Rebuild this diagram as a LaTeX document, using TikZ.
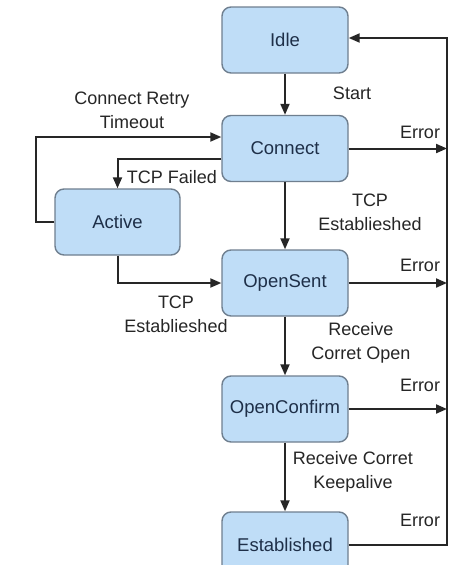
\documentclass[tikz,border=0pt]{standalone}
\usepackage{fontspec}
\setmainfont{Liberation Sans}
\usetikzlibrary{arrows.meta}
\definecolor{boxfill}{HTML}{BFDDF7}
\definecolor{boxdraw}{HTML}{6F7F8F}
\definecolor{boxtext}{HTML}{1E2F48}
\definecolor{labtext}{HTML}{262626}
\begin{document}
\begin{tikzpicture}[x=1pt,y=-1pt,
  state/.style={draw=boxdraw, line width=1.4pt, fill=boxfill, rounded corners=9pt,
    minimum width=126pt, minimum height=66pt, inner sep=0pt,
    text=boxtext, font=\fontsize{18.5}{22}\selectfont},
  lab/.style={text=labtext, align=center, inner sep=0pt, font=\fontsize{18}{24}\selectfont},
  conn/.style={line width=2pt, draw=black!85},
  arr/.style={conn, -{Triangle[length=11pt,width=9pt]}}]
\clip (0,0) rectangle (466,565);
\fill[white] (0,0) rectangle (466,565);

\node[state] (idle) at (285,40) {Idle};
\node[state] (connect) at (285,148.5) {Connect};
\node[state, minimum width=125pt] (active) at (117.5,222) {Active};
\node[state] (opensent) at (285,283) {OpenSent};
\node[state] (openconfirm) at (285,409) {OpenConfirm};
\node[state] (established) at (285,545) {Established};

\coordinate (rail) at (447,0);

% main vertical flow
\draw[arr] (idle) -- (connect);
\draw[arr] (connect) -- (opensent);
\draw[arr] (opensent) -- (openconfirm);
\draw[arr] (openconfirm) -- (established);

% left side transitions
\draw[arr] ([yshift=-10pt]connect.west) -| (active.north);
\draw[arr] (active.west) -- ++(-18,0) |- ([yshift=11.5pt]connect.west);
\draw[arr] (active.south) |- (opensent.west);

% error transitions
\draw[arr] (connect.east) -- (connect.east -| rail);
\draw[arr] (opensent.east) -- (opensent.east -| rail);
\draw[arr] (openconfirm.east) -- (openconfirm.east -| rail);
\draw[arr, rounded corners=0pt] (established.east) -- (established.east -| rail) |- ([yshift=2pt]idle.east);

% labels
\node[lab] (lstart) at (352,93) {Start};
\node[lab] (lretry) at (132,110) {Connect Retry\\Timeout};
\node[lab] (lfailed) at (172,177) {TCP Failed};
\node[lab] (ltcp1) at (370,212) {TCP\\Establieshed};
\node[lab] (ltcp2) at (176,314) {TCP\\Establieshed};
\node[lab] (lopen) at (361,343) {Receive\\Corret Open};
\node[lab] (lkeep) at (353,472) {Receive Corret\\Keepalive};
\node[lab] (e1) at (420,132) {Error};
\node[lab] (e2) at (420,265) {Error};
\node[lab] (e3) at (420,385) {Error};
\node[lab] (e4) at (420,520) {Error};
\end{tikzpicture}
\end{document}
